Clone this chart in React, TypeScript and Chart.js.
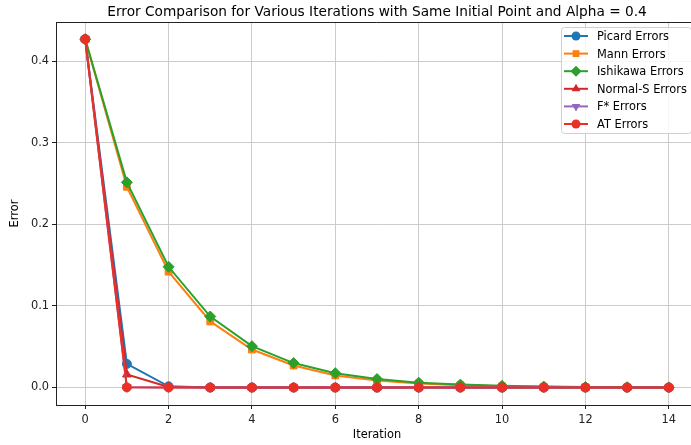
import React, { useEffect, useRef } from "react";
import { Chart, registerables } from "chart.js";

Chart.register(...registerables);

const iterations = [0, 1, 2, 3, 4, 5, 6, 7, 8, 9, 10, 11, 12, 13, 14];
const picardErrors = [0.427, 0.029, 0.0015, 0.0001, 0, 0, 0, 0, 0, 0, 0, 0, 0, 0, 0];
const mannErrors = [0.427, 0.246, 0.142, 0.081, 0.0466, 0.027, 0.0148, 0.0085, 0.0049, 0.0028, 0.0016, 0.0009, 0.0005, 0.0003, 0.0002];
const ishikawaErrors = [0.427, 0.2515, 0.148, 0.087, 0.0507, 0.030, 0.0176, 0.0104, 0.006, 0.0036, 0.0021, 0.0012, 0.0007, 0.0004, 0.0002];
const normalSErrors = [0.427, 0.016, 0.0006, 0, 0, 0, 0, 0, 0, 0, 0, 0, 0, 0, 0];
const fStarErrors = [0.427, 0.0003, 0, 0, 0, 0, 0, 0, 0, 0, 0, 0, 0, 0, 0];
const atErrors = [0.427, 0.0002, 0, 0, 0, 0, 0, 0, 0, 0, 0, 0, 0, 0, 0];

const xTicks = [0, 2, 4, 6, 8, 10, 12, 14];
const yTicks = [0, 0.1, 0.2, 0.3, 0.4];

const titleText = "Error Comparison for Various Iterations with Same Initial Point and Alpha = 0.4";
const FONT = "'DejaVu Sans', sans-serif";
const FS = 11.4;

type Series = { label: string; data: number[]; color: string; style: string; rotation: number; radius: number; order: number };

const series: Series[] = [
  { label: "Picard Errors", data: picardErrors, color: "#1f77b4", style: "circle", rotation: 0, radius: 4.5, order: 6 },
  { label: "Mann Errors", data: mannErrors, color: "#ff7f0e", style: "rect", rotation: 0, radius: 4.8, order: 5 },
  { label: "Ishikawa Errors", data: ishikawaErrors, color: "#2ca02c", style: "rectRot", rotation: 0, radius: 5.5, order: 4 },
  { label: "Normal-S Errors", data: normalSErrors, color: "#d62728", style: "triangle", rotation: 0, radius: 5, order: 3 },
  { label: "F* Errors", data: fStarErrors, color: "#9467bd", style: "triangle", rotation: 180, radius: 5, order: 2 },
  { label: "AT Errors", data: atErrors, color: "#ea3024", style: "circle", rotation: 0, radius: 4.5, order: 1 },
];

function drawMarker(ctx: CanvasRenderingContext2D, s: Series, x: number, y: number) {
  const r = s.radius;
  ctx.beginPath();
  if (s.style === "circle") {
    ctx.arc(x, y, r, 0, Math.PI * 2);
  } else if (s.style === "rect") {
    const h = r * Math.SQRT1_2;
    ctx.rect(x - h, y - h, 2 * h, 2 * h);
  } else if (s.style === "rectRot") {
    ctx.moveTo(x, y - r);
    ctx.lineTo(x + r, y);
    ctx.lineTo(x, y + r);
    ctx.lineTo(x - r, y);
    ctx.closePath();
  } else if (s.style === "triangle") {
    const d = s.rotation === 180 ? -1 : 1;
    ctx.moveTo(x, y - d * r);
    ctx.lineTo(x + r * 0.866, y + d * r * 0.5);
    ctx.lineTo(x - r * 0.866, y + d * r * 0.5);
    ctx.closePath();
  }
  ctx.fill();
}

const decorPlugin = {
  id: "decor",
  afterDraw(chart: any) {
    const ctx = chart.ctx;
    const a = chart.chartArea;
    ctx.save();
    // top and right spines (right one falls outside the visible 691px)
    ctx.strokeStyle = "#222";
    ctx.lineWidth = 1;
    ctx.beginPath();
    ctx.moveTo(a.left, a.top + 0.5);
    ctx.lineTo(a.right - 0.5, a.top + 0.5);
    ctx.lineTo(a.right - 0.5, a.bottom);
    ctx.stroke();
    // title
    ctx.fillStyle = "#000";
    ctx.font = `13.7px ${FONT}`;
    ctx.textAlign = "center";
    ctx.textBaseline = "alphabetic";
    ctx.fillText(titleText, (a.left + a.right) / 2, 16);
    // legend
    const bx = 561, by = 27, bw = 130, bh = 106;
    ctx.fillStyle = "rgba(255,255,255,0.8)";
    ctx.strokeStyle = "#d0d0d0";
    ctx.lineWidth = 1;
    ctx.beginPath();
    if ((ctx as any).roundRect) (ctx as any).roundRect(bx + 0.5, by + 0.5, bw, bh, 3);
    else ctx.rect(bx + 0.5, by + 0.5, bw, bh);
    ctx.fill();
    ctx.stroke();
    ctx.font = `${FS}px ${FONT}`;
    ctx.textAlign = "left";
    ctx.textBaseline = "middle";
    series.forEach((s, i) => {
      const y = 36 + i * 17.6;
      ctx.strokeStyle = s.color;
      ctx.lineWidth = 2;
      ctx.beginPath();
      ctx.moveTo(564, y);
      ctx.lineTo(588, y);
      ctx.stroke();
      ctx.fillStyle = s.color;
      drawMarker(ctx, s, 576, y);
      ctx.fillStyle = "#000";
      ctx.fillText(s.label, 597, y + 1);
    });
    ctx.restore();
  },
};

export default function App() {
  const ref = useRef<HTMLCanvasElement>(null);
  useEffect(() => {
    document.body.style.margin = "0";
    const canvas = ref.current!;
    const chart = new Chart(canvas, {
      type: "line",
      data: {
        labels: iterations,
        datasets: series.map((s) => ({
          label: s.label,
          data: s.data.map((v, i) => ({ x: iterations[i], y: v })),
          borderColor: s.color,
          backgroundColor: s.color,
          borderWidth: 2,
          pointStyle: s.style as any,
          pointRotation: s.rotation,
          pointRadius: s.radius,
          pointBorderWidth: 1,
          pointHoverRadius: s.radius,
          tension: 0,
          fill: false,
          order: s.order,
          clip: false,
        })),
      },
      options: {
        animation: false,
        responsive: false,
        devicePixelRatio: 1,
        layout: { autoPadding: false, padding: { top: 22, left: 0, right: 4, bottom: 0 } },
        plugins: { legend: { display: false }, tooltip: { enabled: false }, title: { display: false } },
        scales: {
          x: {
            type: "linear",
            min: -0.7,
            max: 14.7,
            afterBuildTicks: (sc: any) => { sc.ticks = xTicks.map((v) => ({ value: v })); },
            afterFit: (sc: any) => { sc.height = 40; sc.paddingLeft = 0; sc.paddingRight = 0; },
            ticks: { color: "#222", font: { family: FONT, size: FS }, padding: 4, maxRotation: 0, callback: (v: any) => String(v) },
            grid: { color: "#cccccc", lineWidth: 1, tickColor: "#222", tickLength: 4, drawTicks: true },
            border: { display: true, color: "#222", width: 1 },
            title: { display: true, text: "Iteration", color: "#000", font: { family: FONT, size: FS }, padding: { top: 0, bottom: 3 } },
          },
          y: {
            type: "linear",
            min: -0.0214,
            max: 0.448,
            afterBuildTicks: (sc: any) => { sc.ticks = yTicks.map((v) => ({ value: v })); },
            afterFit: (sc: any) => { sc.width = 56; sc.paddingTop = 0; sc.paddingBottom = 0; },
            ticks: { color: "#222", font: { family: FONT, size: FS }, padding: 3, callback: (v: any) => Number(v).toFixed(1) },
            grid: { color: "#cccccc", lineWidth: 1, tickColor: "#222", tickLength: 4, drawTicks: true },
            border: { display: true, color: "#222", width: 1 },
            title: { display: true, text: "Error", color: "#000", font: { family: FONT, size: FS }, padding: { top: 8, bottom: 0 } },
          },
        },
      },
      plugins: [decorPlugin],
    } as any);
    return () => chart.destroy();
  }, []);
  return (
    <div style={{ width: 691, height: 445, overflow: "hidden", position: "relative" }}>
      <canvas ref={ref} width={702} height={445} style={{ display: "block" }} />
    </div>
  );
}
